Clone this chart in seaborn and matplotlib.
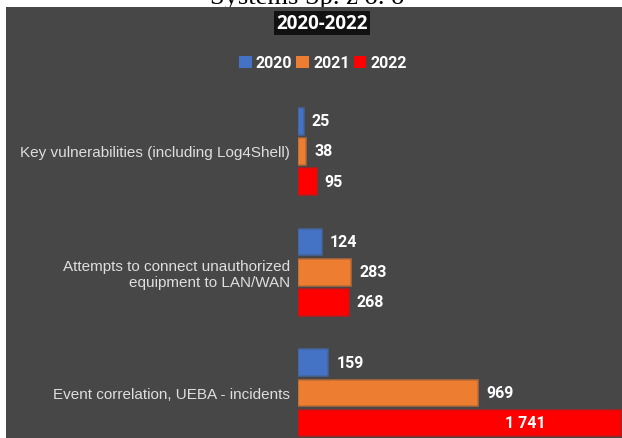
import matplotlib
matplotlib.use("Agg")
import matplotlib.pyplot as plt
import seaborn as sns
import pandas as pd
from matplotlib.patches import Rectangle, Patch
from matplotlib.colors import to_rgba

categories = [
    "Key vulnerabilities (including Log4Shell)",
    "Attempts to connect unauthorized\nequipment to LAN/WAN",
    "Event correlation, UEBA - incidents",
]
years = ["2020", "2021", "2022"]
values_2020 = [25, 124, 159]
values_2021 = [38, 283, 969]
values_2022 = [95, 268, 1741]
year_colors = ["#4472C4", "#ED7D31", "#FF0000"]
title_text = "2020-2022"
header_text = "Systems Sp. z o. o"

series = {"2020": values_2020, "2021": values_2021, "2022": values_2022}
rows = []
for yr in years:
    for cat, v in zip(categories, series[yr]):
        rows.append({"category": cat, "year": yr, "value": v})
df = pd.DataFrame(rows)

sns.set_theme(style="white")
plt.rcParams["font.family"] = ["Liberation Sans", "DejaVu Sans"]

W, H = 622, 439
fig = plt.figure(figsize=(W / 100, H / 100), dpi=100, facecolor="white")

# cropped header text from the source page
fig.text(307 / W, 1 - 4 / H, header_text, ha="center", va="baseline",
         fontsize=19, family="Liberation Serif", color="black", zorder=0)
# dark panel
fig.patches.append(Rectangle((6 / W, 0), 1 - 6 / W, 1 - 8 / H,
                             transform=fig.transFigure, facecolor="#474747",
                             edgecolor="none", zorder=1))

ax = fig.add_axes([298 / W, 0, 1 - 298 / W, 359 / H], zorder=2)
ax.set_facecolor("none")
palette = dict(zip(years, year_colors))
sns.barplot(data=df, y="category", x="value", hue="year", hue_order=years,
            order=categories, orient="h", palette=palette, width=0.75,
            gap=0.15, legend=False, ax=ax, saturation=1)

for container in ax.containers:
    for bar in container:
        fc = bar.get_facecolor()
        bar.set_edgecolor(to_rgba(fc, 0.55))
        bar.set_linewidth(2.0)

ax.set_xlim(0, 1750)
ax.set_ylim(2.377, -0.596)
for s in ax.spines.values():
    s.set_visible(False)
ax.set_xticks([])
ax.set_xlabel("")
ax.set_ylabel("")
ax.tick_params(axis="y", length=0, pad=6, labelsize=11, labelcolor="#dedede")
for lbl in ax.get_yticklabels():
    lbl.set_horizontalalignment("right")
    lbl.set_multialignment("right")

xmax = ax.get_xlim()[1]
for container, yr in zip(ax.containers, years):
    for bar, v in zip(container, series[yr]):
        x = bar.get_width()
        y = bar.get_y() + bar.get_height() / 2
        txt = f"{v:,}".replace(",", "\u00a0")
        if v > 0.8 * xmax:
            ax.annotate(txt, (x, y), xytext=(-75, 0), textcoords="offset pixels",
                        ha="right", va="center", color="white", fontsize=11.5,
                        fontweight="bold", family="Roboto")
        else:
            ax.annotate(txt, (x, y), xytext=(9, 0), textcoords="offset pixels",
                        ha="left", va="center", color="white", fontsize=11.5,
                        fontweight="bold", family="Roboto")

fig.text(322 / W, 1 - 24 / H, title_text, ha="center", va="center",
         fontsize=13.5, fontweight="bold", family="Open Sans", color="white",
         zorder=3,
         bbox=dict(boxstyle="square,pad=0.1", facecolor="#111111", edgecolor="none"))

handles = [Patch(facecolor=c, edgecolor="none") for c in year_colors]
leg = fig.legend(handles, years, loc="center", bbox_to_anchor=(323 / W, 1 - 64 / H),
                 ncol=3, frameon=False, handlelength=0.8, handleheight=0.85,
                 handletextpad=0.25, columnspacing=0.25,
                 prop={"family": "Roboto", "weight": "bold", "size": 11.5})
for t in leg.get_texts():
    t.set_color("white")
leg.set_zorder(3)

fig.savefig("out.png", dpi=100, facecolor=fig.get_facecolor())
